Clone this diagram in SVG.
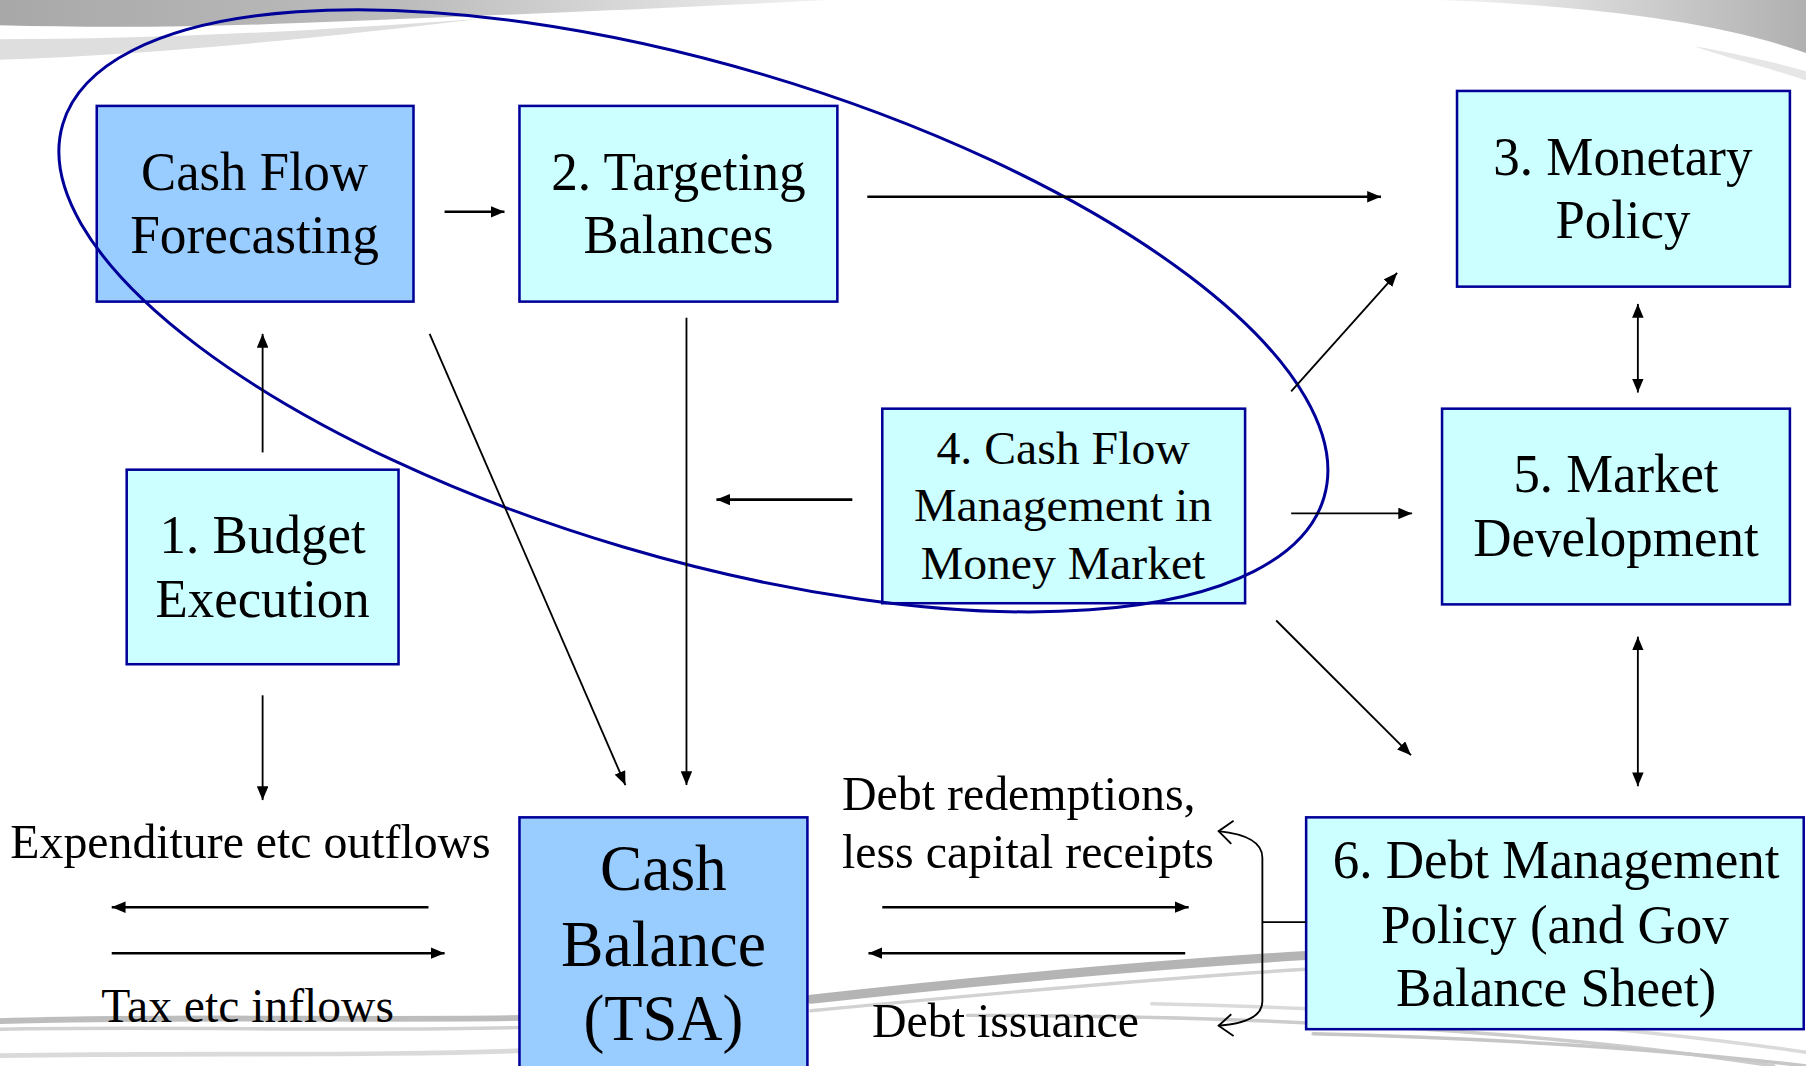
<svg xmlns="http://www.w3.org/2000/svg" width="1806" height="1066" viewBox="0 0 1806 1066">
<defs>
<style>
.box{stroke:#000099;stroke-width:2.2}
.dark{fill:#99ccff}
.light{fill:#ccffff}
.t{font-family:"Liberation Serif","Times New Roman",serif;fill:#000;text-anchor:middle}
.lbl{font-family:"Liberation Serif","Times New Roman",serif;fill:#000}
.ln{fill:none;stroke:#000;stroke-width:1.6}
.lnb{fill:none;stroke:#000;stroke-width:2.2}
.swoosh{fill:none;stroke-linecap:round}
</style>
<marker id="ah" viewBox="0 0 12 10" refX="12" refY="5" markerWidth="12" markerHeight="10" markerUnits="userSpaceOnUse" orient="auto-start-reverse">
<path d="M0,0 L12,5 L0,10 z" fill="#000"/>
</marker>
<linearGradient id="gtl" x1="0" y1="0" x2="1" y2="0">
<stop offset="0" stop-color="#a8a8a8"/>
<stop offset="0.5" stop-color="#bdbdbd"/>
<stop offset="1" stop-color="#f2f2f2"/>
</linearGradient>
<linearGradient id="gtr" x1="0" y1="0" x2="1" y2="0">
<stop offset="0" stop-color="#f4f4f4"/>
<stop offset="1" stop-color="#b0b0b0"/>
</linearGradient>
</defs>
<rect width="1806" height="1066" fill="#ffffff"/>
<g transform="scale(1.1518,1.1512)">
<g id="background">
<path d="M0,0 L720,0 C600,6 420,14 260,20 C160,24 80,24 0,22 Z" fill="url(#gtl)"/>
<path d="M0,34 C120,34 260,28 420,16 C300,30 160,46 0,52 Z" fill="#dedede"/>
<path d="M1250,0 L1568,0 L1568,46 C1500,22 1400,6 1250,0 Z" fill="url(#gtr)"/>
<path d="M1470,40 C1515,48 1548,56 1568,62 L1568,70 C1540,60 1505,52 1470,40 Z" fill="#e6e6e6"/>
<path class="swoosh" d="M0,887 C150,882 320,887 470,884" stroke="#bdbdbd" stroke-width="5"/>
<path class="swoosh" d="M0,894 C160,891 330,897 470,892" stroke="#d2d2d2" stroke-width="3"/>
<path class="swoosh" d="M0,917 C160,914 330,918 470,912" stroke="#dadada" stroke-width="4"/>
<path class="swoosh" d="M704,868 C850,852 1000,838 1134,830" stroke="#b4b4b4" stroke-width="8"/>
<path class="swoosh" d="M704,878 C850,864 1000,850 1134,842" stroke="#d2d2d2" stroke-width="3"/>
<path class="swoosh" d="M840,882 C1100,882 1350,896 1540,926" stroke="#cccccc" stroke-width="3"/>
<path class="swoosh" d="M1000,872 C1200,876 1400,890 1568,914" stroke="#dadada" stroke-width="3"/>
<path class="swoosh" d="M1140,898 C1300,902 1450,912 1568,926" stroke="#c6c6c6" stroke-width="3"/>
</g>

<g id="node-cashflow">
<rect class="box dark" x="84" y="92" width="275" height="170"/>
<text class="t" x="221" y="165" font-size="47" textLength="197" lengthAdjust="spacingAndGlyphs">Cash Flow</text>
<text class="t" x="221" y="220" font-size="47" textLength="216" lengthAdjust="spacingAndGlyphs">Forecasting</text>
</g>
<g id="node-targeting">
<rect class="box light" x="451" y="92" width="276" height="170"/>
<text class="t" x="589" y="165" font-size="47" textLength="221" lengthAdjust="spacingAndGlyphs">2. Targeting</text>
<text class="t" x="589" y="220" font-size="47" textLength="165" lengthAdjust="spacingAndGlyphs">Balances</text>
</g>
<g id="node-monetary">
<rect class="box light" x="1265" y="79" width="289" height="170"/>
<text class="t" x="1409" y="152" font-size="47" textLength="225" lengthAdjust="spacingAndGlyphs">3. Monetary</text>
<text class="t" x="1409" y="207" font-size="47" textLength="117" lengthAdjust="spacingAndGlyphs">Policy</text>
</g>
<g id="node-cfm">
<rect class="box light" x="766" y="355" width="315" height="169"/>
<text class="t" x="923" y="403" font-size="41" textLength="220" lengthAdjust="spacingAndGlyphs">4. Cash Flow</text>
<text class="t" x="923" y="453" font-size="41" textLength="259" lengthAdjust="spacingAndGlyphs">Management in</text>
<text class="t" x="923" y="503" font-size="41" textLength="247" lengthAdjust="spacingAndGlyphs">Money Market</text>
</g>
<g id="node-market">
<rect class="box light" x="1252" y="355" width="302" height="170"/>
<text class="t" x="1403" y="427" font-size="47" textLength="178" lengthAdjust="spacingAndGlyphs">5. Market</text>
<text class="t" x="1403" y="483" font-size="47" textLength="248" lengthAdjust="spacingAndGlyphs">Development</text>
</g>
<g id="node-budget">
<rect class="box light" x="110" y="408" width="236" height="169"/>
<text class="t" x="228" y="480" font-size="47" textLength="179" lengthAdjust="spacingAndGlyphs">1. Budget</text>
<text class="t" x="228" y="536" font-size="47" textLength="186" lengthAdjust="spacingAndGlyphs">Execution</text>
</g>
<g id="node-cashbalance">
<rect class="box dark" x="451" y="710" width="250" height="230"/>
<text class="t" x="576" y="773" font-size="56" textLength="110" lengthAdjust="spacingAndGlyphs">Cash</text>
<text class="t" x="576" y="839" font-size="56" textLength="178" lengthAdjust="spacingAndGlyphs">Balance</text>
<text class="t" x="576" y="903" font-size="56" textLength="139" lengthAdjust="spacingAndGlyphs">(TSA)</text>
</g>
<g id="node-debt">
<rect class="box light" x="1134" y="710" width="432" height="184"/>
<text class="t" x="1351" y="763" font-size="47" textLength="388" lengthAdjust="spacingAndGlyphs">6. Debt Management</text>
<text class="t" x="1350" y="819" font-size="47" textLength="302" lengthAdjust="spacingAndGlyphs">Policy (and Gov</text>
<text class="t" x="1351" y="874" font-size="47" textLength="278" lengthAdjust="spacingAndGlyphs">Balance Sheet)</text>
</g>

<g id="ellipse">
<ellipse cx="602" cy="270" rx="571" ry="214" transform="rotate(16.5 602 270)" fill="none" stroke="#000099" stroke-width="2.6"/>
</g>

<g id="labels">
<text class="lbl" x="9" y="745" font-size="42" textLength="417" lengthAdjust="spacingAndGlyphs">Expenditure etc outflows</text>
<text class="lbl" x="88" y="888" font-size="42" textLength="254" lengthAdjust="spacingAndGlyphs">Tax etc inflows</text>
<text class="lbl" x="731" y="704" font-size="42" textLength="307" lengthAdjust="spacingAndGlyphs">Debt redemptions,</text>
<text class="lbl" x="731" y="754" font-size="42" textLength="323" lengthAdjust="spacingAndGlyphs">less capital receipts</text>
<text class="lbl" x="757" y="901" font-size="42" textLength="232" lengthAdjust="spacingAndGlyphs">Debt issuance</text>
</g>

<g id="connectors">
<line class="lnb" x1="386" y1="184" x2="438" y2="184" marker-end="url(#ah)"/>
<line class="lnb" x1="753" y1="171" x2="1199" y2="171" marker-end="url(#ah)"/>
<line class="ln" x1="373" y1="290" x2="543" y2="682" marker-end="url(#ah)"/>
<line class="ln" x1="596" y1="276" x2="596" y2="682" marker-end="url(#ah)"/>
<line class="ln" x1="228" y1="393" x2="228" y2="290" marker-end="url(#ah)"/>
<line class="ln" x1="228" y1="604" x2="228" y2="695" marker-end="url(#ah)"/>
<line class="lnb" x1="740" y1="434" x2="622" y2="434" marker-end="url(#ah)"/>
<line class="ln" x1="1121" y1="340" x2="1213" y2="237" marker-end="url(#ah)"/>
<line class="ln" x1="1121" y1="446" x2="1226" y2="446" marker-end="url(#ah)"/>
<line class="ln" x1="1108" y1="539" x2="1225" y2="656" marker-end="url(#ah)"/>
<line class="ln" x1="1422" y1="264" x2="1422" y2="341" marker-start="url(#ah)" marker-end="url(#ah)"/>
<line class="ln" x1="1422" y1="553" x2="1422" y2="683" marker-start="url(#ah)" marker-end="url(#ah)"/>
<line class="lnb" x1="372" y1="788" x2="97" y2="788" marker-end="url(#ah)"/>
<line class="lnb" x1="97" y1="828" x2="386" y2="828" marker-end="url(#ah)"/>
<line class="lnb" x1="766" y1="788" x2="1032" y2="788" marker-end="url(#ah)"/>
<line class="lnb" x1="1029" y1="828" x2="754" y2="828" marker-end="url(#ah)"/>
<path class="ln" d="M1058,722 Q1096,726 1096,745 L1096,870 Q1096,888 1058,891"/>
<path class="ln" d="M1071,713 L1058,722 L1069,733"/>
<path class="ln" d="M1069,881 L1058,891 L1071,900"/>
<line class="ln" x1="1096" y1="801" x2="1134" y2="801"/>
</g>
</g>
</svg>
